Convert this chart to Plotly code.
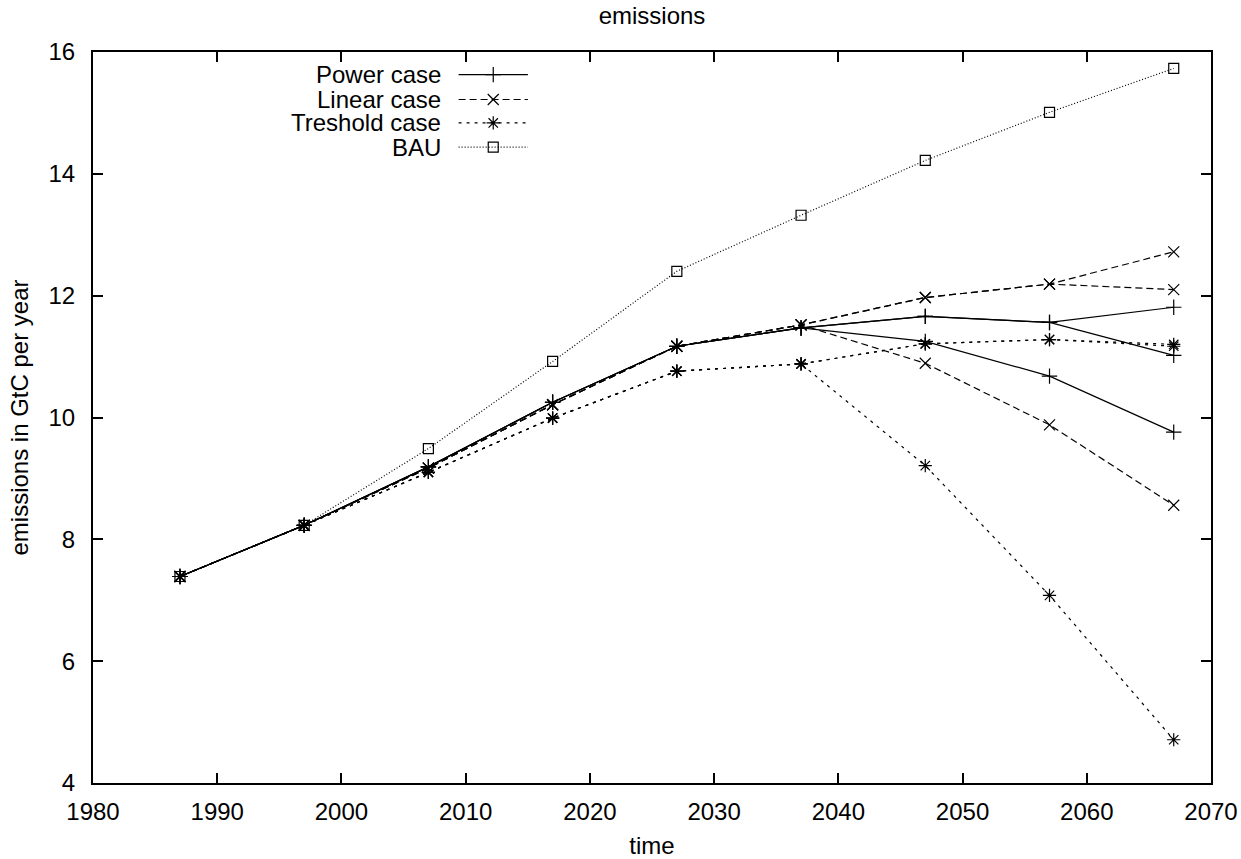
import plotly.graph_objects as go

# ---- data ----
years = [1987, 1997, 2007, 2017, 2027, 2037, 2047, 2057, 2067]

power_high = [7.39, 8.23, 9.19, 10.25, 11.17, 11.47, 11.66, 11.56, 11.81]
power_mid = [7.39, 8.23, 9.19, 10.25, 11.17, 11.47, 11.66, 11.56, 11.02]
power_low = [7.39, 8.23, 9.19, 10.25, 11.17, 11.47, 11.25, 10.68, 9.76]

linear_high = [7.39, 8.23, 9.17, 10.21, 11.17, 11.52, 11.97, 12.19, 12.72]
linear_mid = [7.39, 8.23, 9.17, 10.21, 11.17, 11.52, 11.97, 12.19, 12.10]
linear_low = [7.39, 8.23, 9.17, 10.21, 11.17, 11.52, 10.89, 9.88, 8.56]

threshold_high = [7.39, 8.23, 9.10, 9.99, 10.76, 10.88, 11.21, 11.28, 11.20]
threshold_mid = [7.39, 8.23, 9.10, 9.99, 10.76, 10.88, 11.21, 11.28, 11.17]
threshold_low = [7.39, 8.23, 9.10, 9.99, 10.76, 10.88, 9.21, 7.08, 4.71]

bau = [7.39, 8.23, 9.49, 10.92, 12.40, 13.32, 14.22, 15.01, 15.73]

case_names = ["Power case", "Linear case", "Treshold case", "BAU"]
case_series = [
    [power_high, power_mid, power_low],
    [linear_high, linear_mid, linear_low],
    [threshold_high, threshold_mid, threshold_low],
    [bau],
]

x_ticks = [1980, 1990, 2000, 2010, 2020, 2030, 2040, 2050, 2060, 2070]
y_ticks = [4, 6, 8, 10, 12, 14, 16]

# ---- styles ----
FONT = "Liberation Sans, Arial, sans-serif"
FS = 24
styles = {
    "Power case": dict(dash="solid", symbol="cross-thin", size=11),
    "Linear case": dict(dash="7px,4px", symbol="x-thin", size=11),
    "Treshold case": dict(dash="3px,5px", symbol="asterisk", size=11),
    "BAU": dict(dash="1px,2px", symbol="square-open", size=10),
}

fig = go.Figure()
for name, series in zip(case_names, case_series):
    st = styles[name]
    for s in series:
        fig.add_trace(go.Scatter(
            x=years, y=s, mode="lines+markers", showlegend=False,
            line=dict(color="black", width=1.2, dash=st["dash"]),
            marker=dict(symbol=st["symbol"], size=st["size"], color="black",
                        line=dict(color="black", width=1.2)),
            hoverinfo="skip",
        ))

# ---- gnuplot-style key (text on the left, sample on the right) ----
key_rows_y = [0.969, 0.935, 0.903, 0.870]
key_text_x = 0.313
key_line_x = [0.327, 0.389]
for name, ky in zip(case_names, key_rows_y):
    st = styles[name]
    fig.add_trace(go.Scatter(
        x=key_line_x, y=[ky, ky], mode="lines", xaxis="x2", yaxis="y2",
        showlegend=False, hoverinfo="skip",
        line=dict(color="black", width=1.2, dash=st["dash"]),
    ))
    fig.add_trace(go.Scatter(
        x=[sum(key_line_x) / 2], y=[ky], mode="markers", xaxis="x2", yaxis="y2",
        showlegend=False, hoverinfo="skip",
        marker=dict(symbol=st["symbol"], size=st["size"], color="black",
                    line=dict(color="black", width=1.2)),
    ))
    fig.add_annotation(
        x=key_text_x, y=ky, xref="x2", yref="y2", text=name, showarrow=False,
        xanchor="right", yanchor="middle",
        font=dict(family=FONT, size=FS, color="black"),
    )

axis_common = dict(
    showline=True, linecolor="black", linewidth=2, mirror="allticks",
    ticks="inside", ticklen=10, tickwidth=2, tickcolor="black",
    showgrid=False, zeroline=False, automargin=False,
    tickfont=dict(family=FONT, size=FS, color="black"),
)

fig.update_layout(
    width=1241, height=859,
    paper_bgcolor="white", plot_bgcolor="white",
    margin=dict(l=93, r=30, t=52, b=76),
    title=dict(text="emissions", x=0.5254, xanchor="center", y=0.9815,
               yanchor="middle", yref="container",
               font=dict(family=FONT, size=FS, color="black")),
    xaxis=dict(range=[1980, 2070], tickvals=x_ticks, ticklabelstandoff=6,
               title=dict(text="time", standoff=13,
                          font=dict(family=FONT, size=FS, color="black")),
               **axis_common),
    yaxis=dict(range=[4, 16], tickvals=y_ticks, ticklabelstandoff=11,
               title=dict(text="emissions in GtC per year", standoff=13,
                          font=dict(family=FONT, size=FS, color="black")),
               **axis_common),
    xaxis2=dict(overlaying="x", range=[0, 1], visible=False),
    yaxis2=dict(overlaying="y", range=[0, 1], visible=False),
)

fig.write_html(
    "out.html",
    config={"displayModeBar": False},
    post_script="document.body.style.margin='0';document.body.style.overflow='hidden';",
)
